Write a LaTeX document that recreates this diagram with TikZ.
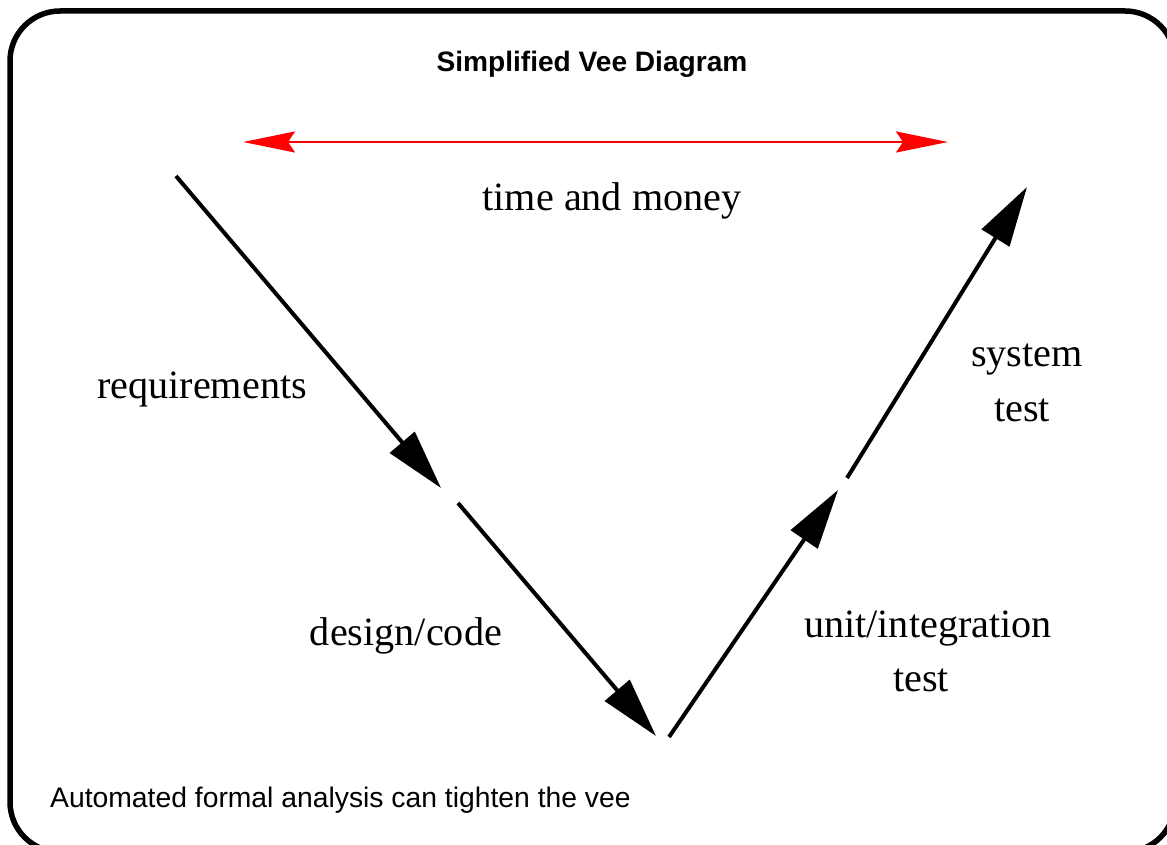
\documentclass[tikz,border=0pt]{standalone}
\usepackage{fontspec}
\setmainfont{Liberation Serif}
\newfontfamily\arialf{Liberation Sans}
\usetikzlibrary{arrows.meta}
\begin{document}
\begin{tikzpicture}[x=1pt,y=-1pt,
  serlabel/.style={anchor=base,inner sep=0pt,font=\fontsize{40.2}{44}\selectfont},
  vline/.style={line width=4pt,-{Triangle[length=60pt,width=32pt]}},
  redline/.style={draw=red,line width=2.2pt,{Stealth[length=52pt,width=21pt,inset=7pt]}-{Stealth[length=52pt,width=21pt,inset=7pt]}}]
\useasboundingbox (0,0) rectangle (1167,845);
\clip (0,0) rectangle (1167,845);
\draw[line width=5.5pt,rounded corners=50pt] (10,11) rectangle (1175,852);
% texts
\node[anchor=base,inner sep=0pt,font=\arialf\bfseries\fontsize{28.1}{32}\selectfont] (title) at (592,72) {Simplified Vee Diagram};
\node[serlabel] (tm) at (612,211) {time and money};
\node[serlabel] (req) at (202,398) {requirements};
\node[serlabel] (dc) at (406,645) {design/code};
\node[serlabel] (sys) at (1027,366) {system};
\node[serlabel] (sys2) at (1022,421) {test};
\node[serlabel] (ui) at (928,637) {unit/integration};
\node[serlabel] (ui2) at (921,691) {test};
\node[anchor=base west,inner sep=0pt,font=\arialf\fontsize{28.3}{32}\selectfont] (note) at (50,807) {Automated formal analysis can tighten the vee};
% connector points
\coordinate (r1) at (243,142);
\coordinate (r2) at (948,142);
\coordinate (a1) at (176,176);
\coordinate (a2) at (441,488);
\coordinate (b1) at (458,503);
\coordinate (b2) at (656,736);
\coordinate (c1) at (669,737);
\coordinate (c2) at (838,490);
\coordinate (d1) at (847,478);
\coordinate (d2) at (1027,187);
\draw[redline] (r1) -- (r2);
\draw[vline] (a1) -- (a2);
\draw[vline] (b1) -- (b2);
\draw[vline] (c1) -- (c2);
\draw[vline] (d1) -- (d2);
\end{tikzpicture}
\end{document}
